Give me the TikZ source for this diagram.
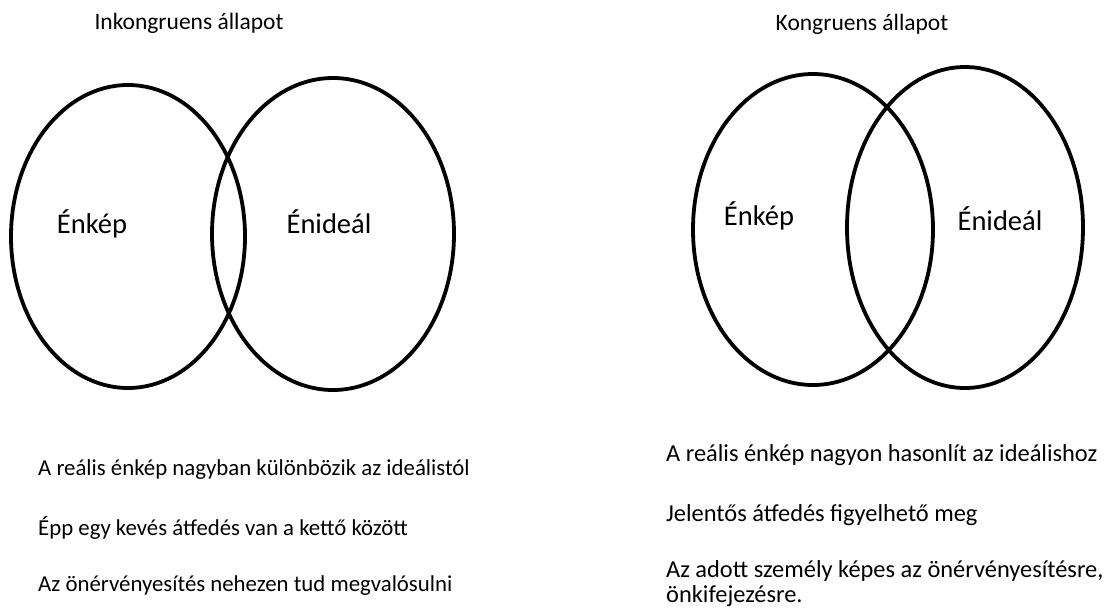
\documentclass[tikz,border=0pt]{standalone}
\usepackage{fontspec}
\setmainfont{Carlito}
\usetikzlibrary{shapes.geometric}
\tikzset{
  venn/.style={draw, ellipse, line width=3.8pt, inner sep=0pt},
  title/.style={font=\fontsize{23.5}{27}\selectfont},
  setlabel/.style={font=\fontsize{28.5}{32}\selectfont},
  remark/.style={anchor=west, align=left, inner sep=0pt, font=\fontsize{22.8}{26}\selectfont},
  remarkr/.style={remark, font=\fontsize{24.4}{25}\selectfont},
}
\begin{document}
\begin{tikzpicture}[x=1pt, y=-1pt]
    \useasboundingbox (0, 0) rectangle (1117, 616);

    % inkongruens
    \node[title] (tinc) at (189, 23) {Inkongruens állapot};
    \node[venn, minimum width=234, minimum height=303] (inckep) at (128, 236.5) {};
    \node[venn, minimum width=242, minimum height=312] (incideal) at (333, 234) {};
    \node[setlabel] (linckep) at (92, 224) {Énkép};
    \node[setlabel] (lincideal) at (329, 222) {Énideál};

    \node[remark] (inca) at (38, 470) {A reális énkép nagyban különbözik az ideálistól};
    \node[remark] (incb) at (38, 528) {Épp egy kevés átfedés van a kettő között};
    \node[remark] (incc) at (38, 586) {Az önérvényesítés nehezen tud megvalósulni};

    % kongruens
    \node[title] (tkon) at (862, 24) {Kongruens állapot};
    \node[venn, minimum width=240, minimum height=311] (konkep) at (813, 229.5) {};
    \node[venn, minimum width=236, minimum height=321] (konideal) at (965, 227.5) {};
    \node[setlabel] (lkonkep) at (759, 216) {Énkép};
    \node[setlabel] (lkonideal) at (1000, 219) {Énideál};

    \node[remarkr] (kona) at (666, 455) {A reális énkép nagyon hasonlít az ideálishoz};
    \node[remarkr] (konb) at (666, 515) {Jelentős átfedés figyelhető meg};
    \node[remarkr] (konc) at (666, 584) {Az adott személy képes az önérvényesítésre,\\önkifejezésre.};
\end{tikzpicture}
\end{document}
